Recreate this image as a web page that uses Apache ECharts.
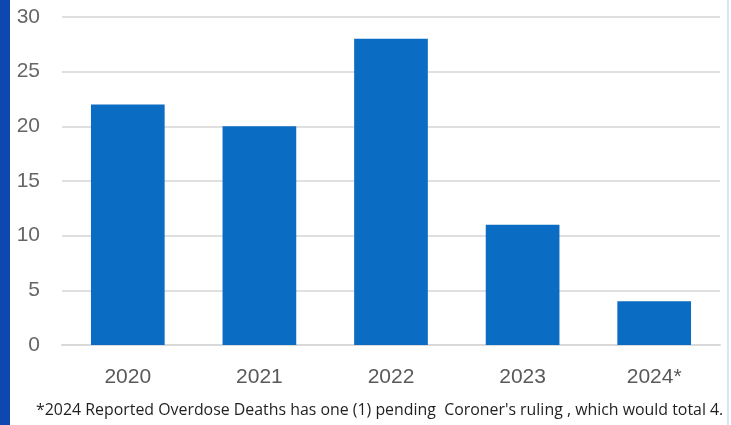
<!DOCTYPE html>
<html><head><meta charset="utf-8">
<script src="https://cdn.jsdelivr.net/npm/echarts@6/dist/echarts.min.js"></script>
<style>html,body{margin:0;padding:0;background:#fff;}#c{width:731px;height:425px;}</style>
</head><body><div id="c"></div>
<script>
const categories = ['2020', '2021', '2022', '2023', '2024*'];
const deaths = [22, 20, 28, 11, 4];
const yTicks = [0, 5, 10, 15, 20, 25, 30];
const footnote = "*2024 Reported Overdose Deaths has one (1) pending  Coroner's ruling , which would total 4.";

const chart = echarts.init(document.getElementById('c'), null, {renderer: 'canvas'});
chart.setOption({
  animation: false,
  backgroundColor: '#ffffff',
  graphic: [
    {type: 'rect', left: 0, top: 0, shape: {width: 10, height: 425}, style: {fill: '#0d47b0'}},
    {type: 'rect', left: 727, top: 0, shape: {width: 2, height: 425}, style: {fill: '#d6e8f7'}},
    {type: 'text', left: 36, top: 402, style: {text: footnote, font: '15.9px "Open Sans", Arial, sans-serif', fill: '#1f1f1f'}}
  ],
  grid: {left: 62, right: 11, top: 17, bottom: 80, containLabel: false},
  xAxis: {
    type: 'category', data: categories,
    axisLine: {show: true, lineStyle: {color: '#d9d9d9', width: 2}},
    axisTick: {show: false},
    axisLabel: {color: '#595959', fontSize: 21, margin: 22, fontFamily: 'Liberation Sans, Arial, sans-serif'}
  },
  yAxis: {
    type: 'value', min: yTicks[0], max: yTicks[yTicks.length - 1], interval: 5,
    axisLine: {show: false}, axisTick: {show: false},
    splitLine: {lineStyle: {color: '#e0e0e0', width: 2}},
    axisLabel: {color: '#666666', fontSize: 21, margin: 22, fontFamily: 'Liberation Sans, Arial, sans-serif'}
  },
  series: [{
    type: 'bar', data: deaths, barWidth: '56%',
    itemStyle: {color: '#0a6cc2'}
  }]
});
</script></body></html>
